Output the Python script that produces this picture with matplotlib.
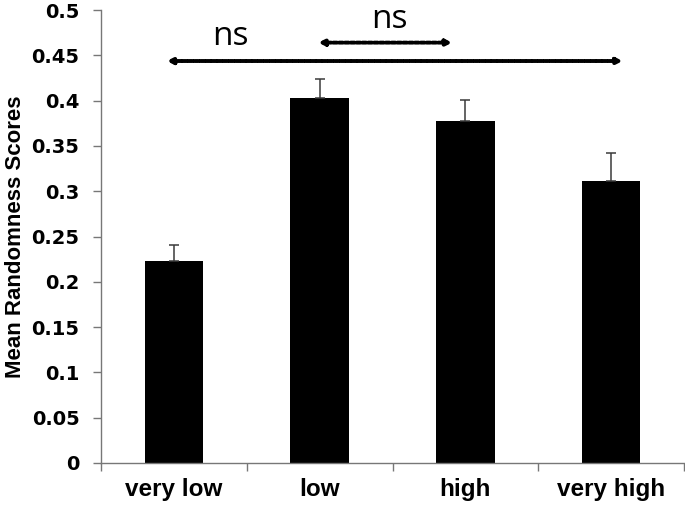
import numpy as np
import matplotlib.pyplot as plt

categories = ["very low", "low", "high", "very high"]
means = [0.223, 0.403, 0.377, 0.311]
errors = [0.018, 0.021, 0.024, 0.031]
yticks = [0, 0.05, 0.1, 0.15, 0.2, 0.25, 0.3, 0.35, 0.4, 0.45, 0.5]
ytick_labels = ["0", "0.05", "0.1", "0.15", "0.2", "0.25", "0.3", "0.35", "0.4", "0.45", "0.5"]

# ns brackets: (x start, x end, y) and label (x, y)
brackets = [(-0.05, 3.08, 0.4437), (0.99, 1.91, 0.464)]
ns_labels = [(0.385, 0.461), (1.48, 0.48)]

plt.rcParams['font.family'] = ['Liberation Sans', 'DejaVu Sans']

fig = plt.figure(figsize=(6.85, 5.07), dpi=100)
ax = fig.add_axes([101/685, 44/507, 583/685, 453/507])

x = np.arange(len(categories))
ax.bar(x, means, width=0.4, color="black", zorder=2)
ax.errorbar(x, means, yerr=[np.zeros(len(means)), errors], fmt="none",
            ecolor="#3a3a3a", elinewidth=1.1, capsize=3.6, capthick=1.1, zorder=3)

ax.set_xlim(-0.5, 3.5)
ax.set_ylim(0, 0.5)
ax.set_yticks(yticks)
ax.set_yticklabels(ytick_labels, fontsize=14, fontweight="bold", family=["DejaVu Sans"])
ax.set_xticks(x)
ax.set_xticklabels(categories, fontsize=17.5, fontweight="bold")
ax.tick_params(axis="x", which="major", length=0, pad=11)
ax.set_xticks(np.arange(-0.5, 4.0, 1.0), minor=True)
ax.tick_params(axis="x", which="minor", length=5.5, width=1.0, color="#777777", direction="out")
ax.tick_params(axis="y", length=5.5, width=1.0, color="#777777", direction="out", pad=10)
ax.set_ylabel("Mean Randomness Scores", fontsize=16, fontweight="bold")
ax.yaxis.set_label_coords(-0.129, 0.5)

for side in ["top", "right"]:
    ax.spines[side].set_visible(False)
for side in ["left", "bottom"]:
    ax.spines[side].set_color("#777777")
    ax.spines[side].set_linewidth(1.0)

# significance arrows
for x0, x1, yb in brackets:
    ax.annotate("", xy=(x0, yb), xytext=(x1, yb),
                arrowprops=dict(arrowstyle="<|-|>", color="black", lw=2.8,
                                linestyle=(0, (1.0, 0.5)), mutation_scale=8,
                                shrinkA=0, shrinkB=0),
                annotation_clip=False)
for xt, yt in ns_labels:
    ax.text(xt, yt, "ns", fontsize=24, family=["Open Sans", "DejaVu Sans"],
            ha="center", va="baseline")

fig.savefig("out.png", dpi=100)
